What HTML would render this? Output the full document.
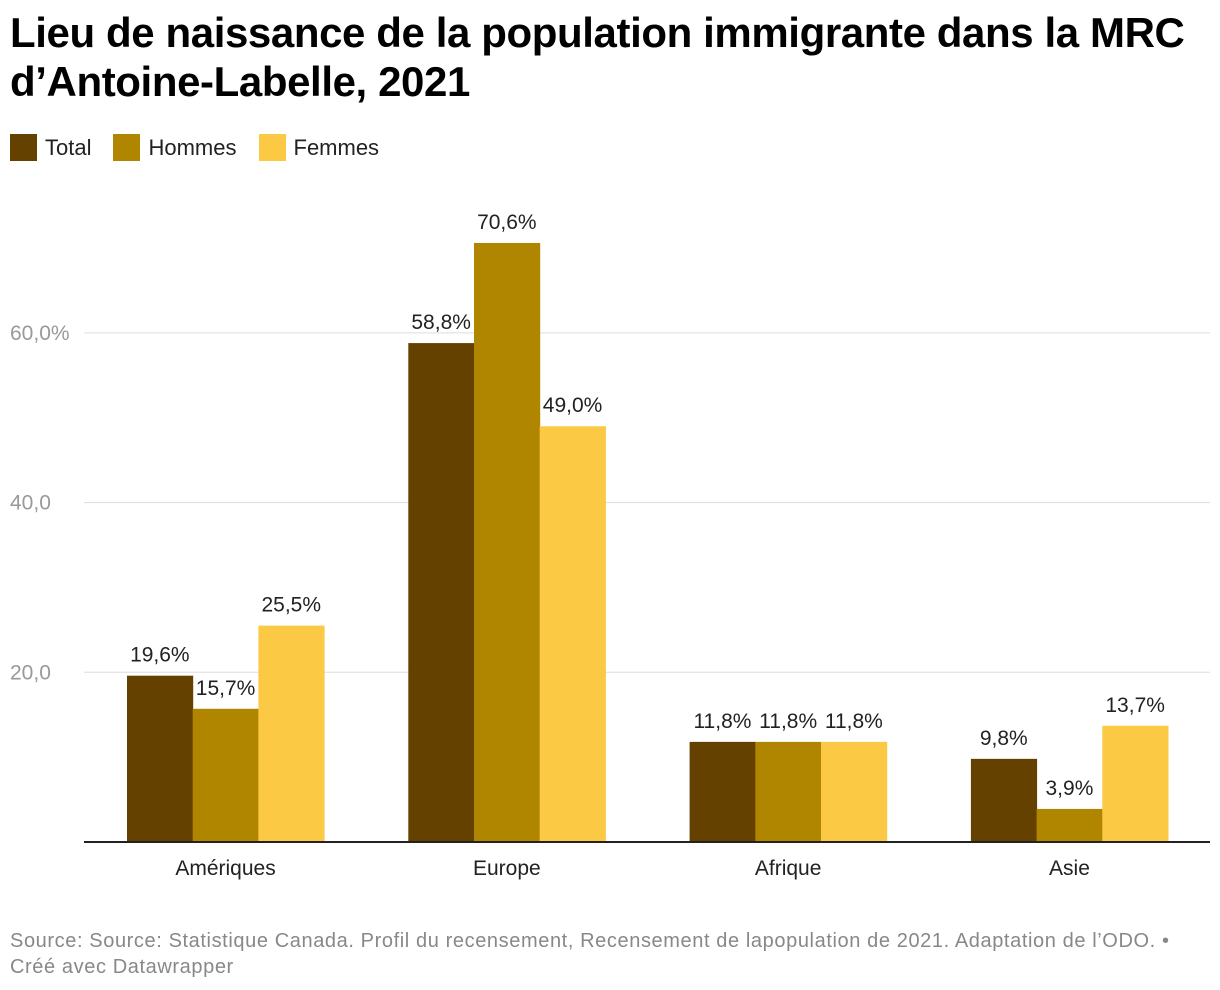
<!DOCTYPE html>
<html><head><meta charset="utf-8"><style>
body{margin:0;width:1220px;height:990px;background:#fff;font-family:"Liberation Sans",sans-serif;overflow:hidden;position:relative}
h1{position:absolute;left:10px;top:8px;margin:0;font-size:42px;line-height:49px;font-weight:bold;color:#000;letter-spacing:-0.4px;white-space:nowrap}
.legend{position:absolute;left:10px;top:134px;font-size:22px;color:#222;display:flex}
.li{display:flex;align-items:center;margin-right:22px}
.sw{width:27px;height:27px;margin-right:8px}
.foot{position:absolute;left:10px;top:928px;font-size:20px;line-height:26px;color:#888;letter-spacing:0.6px;white-space:nowrap}
</style></head><body>
<h1>Lieu de naissance de la population immigrante dans la MRC<br>d’Antoine-Labelle, 2021</h1>
<div class="legend">
<div class="li"><div class="sw" style="background:#654100"></div>Total</div>
<div class="li"><div class="sw" style="background:#b08500"></div>Hommes</div>
<div class="li"><div class="sw" style="background:#fcc945"></div>Femmes</div>
</div>
<svg id="chart" width="1220" height="990" style="position:absolute;left:0;top:0"></svg>
<div class="foot">Source: Source: Statistique Canada. Profil du recensement, Recensement de lapopulation de 2021. Adaptation de l’ODO. •<br>Créé avec Datawrapper</div>
<script>
const categories=["Amériques","Europe","Afrique","Asie"];
const totalValues=[19.6,58.8,11.8,9.8];
const hommesValues=[15.7,70.6,11.8,3.9];
const femmesValues=[25.5,49.0,11.8,13.7];
const yTicks=[20,40,60];
const yTickLabels=["20,0","40,0","60,0%"];
const series=[{name:"total",vals:totalValues,color:"#654100"},{name:"hommes",vals:hommesValues,color:"#b08500"},{name:"femmes",vals:femmesValues,color:"#fcc945"}];
const svg=document.getElementById('chart');
const NS="http://www.w3.org/2000/svg";
const y0=842,pxPerUnit=8.485;
const y=v=>y0-v*pxPerUnit;
const groupX=i=>127+i*281.3;
const bw=65.7;
function mk(t,a){const e=document.createElementNS(NS,t);for(const k in a)e.setAttribute(k,a[k]);svg.appendChild(e);return e;}
yTicks.forEach((t,i)=>{
 const l=mk('line',{x1:84,x2:1210,y1:y(t),y2:y(t),stroke:'#ddd','stroke-width':1});
 
 
 const tx=mk('text',{x:10,y:y(t)+7,'font-size':21,fill:'#999'});tx.textContent=yTickLabels[i];
 
 
});
categories.forEach((c,i)=>{
 series.forEach((s,j)=>{
  const v=s.vals[i],x=groupX(i)+j*bw;
  const r=mk('rect',{x:x,y:y(v),width:bw+0.5,height:y0-y(v),fill:s.color});
  
  
  const t=mk('text',{x:x+bw/2,y:y(v)-14,'font-size':21,fill:'#222','text-anchor':'middle'});
  t.textContent=v.toFixed(1).replace('.',',')+'%';
  
  
 });
 const cl=mk('text',{x:groupX(i)+bw*1.5,y:875,'font-size':21,fill:'#222','text-anchor':'middle'});
 cl.textContent=c;
 
 
});
const ax=mk('line',{x1:84,x2:1210,y1:y0,y2:y0,stroke:'#222','stroke-width':2});


</script>
</body></html>
